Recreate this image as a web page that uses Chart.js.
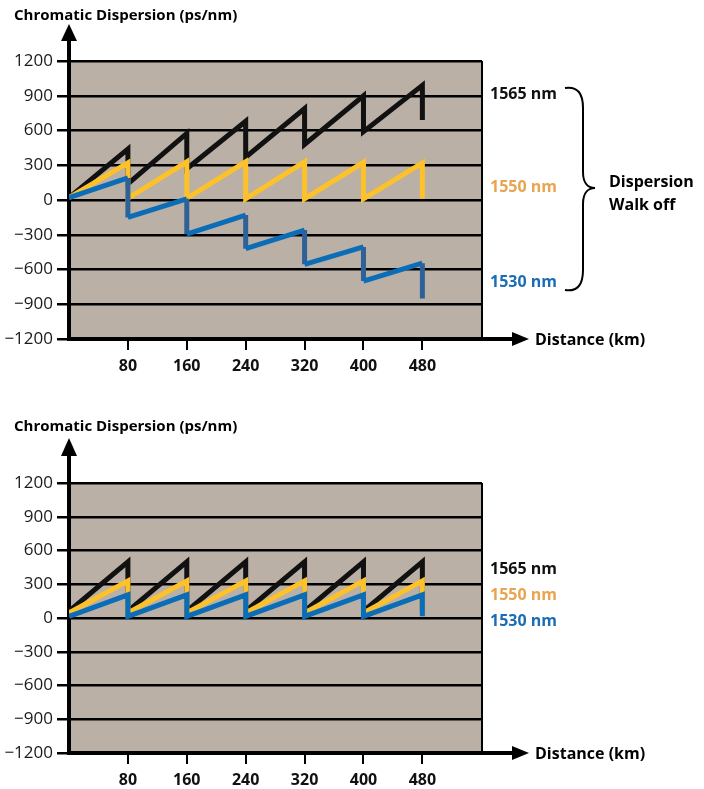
<!DOCTYPE html>
<html>
<head>
<meta charset="utf-8">
<script src="https://cdn.jsdelivr.net/npm/chart.js@4.4.1/dist/chart.umd.min.js"></script>
<style>
  html, body { margin: 0; padding: 0; background: #fff; }
  #wrap { position: relative; width: 704px; height: 789px; }
  canvas { position: absolute; left: 0; }
  #topChart { top: 0; }
  #bottomChart { top: 395px; }
</style>
</head>
<body>
<div id="wrap">
  <canvas id="topChart" width="704" height="395"></canvas>
  <canvas id="bottomChart" width="704" height="394"></canvas>
</div>
<script>
// distance (km): every span ends with a vertical drop at the compensator
const distance = [0, 80, 80, 160, 160, 240, 240, 320, 320, 400, 400, 480, 480];
const xTicks = [80, 160, 240, 320, 400, 480];
const yTicks = [-1200, -900, -600, -300, 0, 300, 600, 900, 1200];

// top chart - dispersion walk off (ps/nm)
const walk1565 = [20, 440, 140, 575, 270, 680, 370, 790, 480, 900, 590, 990, 690];
const walk1550 = [20, 320, 15, 330, 15, 330, 10, 330, 10, 325, 10, 320, 10];
const walk1530 = [20, 190, -150, 10, -295, -130, -420, -260, -555, -405, -700, -545, -850];

// bottom chart - slope matched compensation (ps/nm)
const comp1565 = [60, 500, 60, 500, 60, 500, 60, 500, 60, 500, 60, 500, 60];
const comp1550 = [45, 330, 45, 330, 45, 330, 45, 330, 45, 330, 45, 330, 45];
const comp1530 = [15, 205, 15, 205, 15, 205, 15, 205, 15, 205, 15, 205, 15];

const seriesNames = ['1565 nm', '1550 nm', '1530 nm'];
const lineColors = ['#111111', '#fdc12a', '#0b6db7'];
const labelColors = ['#111111', '#e8a44e', '#1a6db4'];
const FONT = '"Open Sans", "Noto Sans", sans-serif';

const toPoints = vals => vals.map((v, i) => ({ x: distance[i], y: v }));

const decor = {
  id: 'decor',
  beforeDraw(chart, args, o) {
    const { ctx, chartArea: a } = chart;
    ctx.save();
    ctx.fillStyle = '#bab0a5';
    ctx.fillRect(a.left, a.top, a.right - a.left, a.bottom - a.top);
    ctx.restore();
  },
  afterDraw(chart, args, o) {
    const { ctx, chartArea: a } = chart;
    ctx.save();
    ctx.strokeStyle = '#000';
    ctx.fillStyle = '#000';
    // right border
    ctx.lineWidth = 2;
    ctx.beginPath();
    ctx.moveTo(a.right, a.top);
    ctx.lineTo(a.right, a.bottom);
    ctx.stroke();
    // y arrow
    ctx.lineWidth = 4;
    ctx.beginPath();
    ctx.moveTo(a.left, a.top);
    ctx.lineTo(a.left, o.arrowBase);
    ctx.stroke();
    ctx.beginPath();
    ctx.moveTo(a.left, o.arrowTip);
    ctx.lineTo(a.left - 8, o.arrowBase + 1);
    ctx.lineTo(a.left + 8, o.arrowBase + 1);
    ctx.closePath();
    ctx.fill();
    // x arrow
    ctx.beginPath();
    ctx.moveTo(a.right, a.bottom);
    ctx.lineTo(513, a.bottom);
    ctx.stroke();
    ctx.beginPath();
    ctx.moveTo(529, a.bottom);
    ctx.lineTo(512, a.bottom - 7);
    ctx.lineTo(512, a.bottom + 7);
    ctx.closePath();
    ctx.fill();
    // axis titles
    ctx.font = '700 15px ' + FONT;
    ctx.textBaseline = 'alphabetic';
    ctx.textAlign = 'left';
    ctx.fillText('Chromatic Dispersion (ps/nm)', 14, o.titleBase);
    ctx.textBaseline = 'middle';
    ctx.font = '700 16px ' + FONT;
    ctx.fillText('Distance (km)', 535, a.bottom + 1);
    // series labels
    seriesNames.forEach((name, i) => {
      ctx.fillStyle = labelColors[i];
      ctx.fillText(name, 490, o.labelY[i]);
    });
    // brace
    if (o.brace) {
      ctx.fillStyle = '#000';
      ctx.lineWidth = 2;
      const b = o.brace, x = 583, tipX = 595;
      ctx.beginPath();
      ctx.moveTo(565, b.top);
      ctx.bezierCurveTo(578, b.top - 2, x, b.top + 6, x, b.top + 20);
      ctx.lineTo(x, b.mid - 16);
      ctx.bezierCurveTo(x, b.mid - 4, tipX - 6, b.mid, tipX, b.mid);
      ctx.bezierCurveTo(tipX - 6, b.mid, x, b.mid + 4, x, b.mid + 16);
      ctx.lineTo(x, b.bottom - 20);
      ctx.bezierCurveTo(x, b.bottom - 6, 578, b.bottom + 2, 565, b.bottom);
      ctx.stroke();
      ctx.fillText('Dispersion', 609, b.mid - 6);
      ctx.fillText('Walk off', 609, b.mid + 17);
    }
    ctx.restore();
  }
};

function makeChart(id, values, cfg) {
  const datasets = values.map((vals, i) => ({
    label: seriesNames[i],
    data: toPoints(vals),
    borderColor: lineColors[i],
    borderWidth: 5,
    pointRadius: 0,
    fill: false,
    tension: 0,
    borderJoinStyle: 'miter',
    order: i === 0 ? 3 : (i === 1 ? 2 : 1),
    segment: (cfg.darkDrop && i === 2) ? {
      borderColor: c => c.p0.parsed.x === c.p1.parsed.x ? '#2f6199' : undefined
    } : undefined
  }));

  return new Chart(document.getElementById(id), {
    type: 'line',
    data: { datasets },
    plugins: [decor],
    options: {
      responsive: false,
      animation: false,
      layout: { padding: { top: cfg.top, right: 222, left: 0, bottom: 0 } },
      plugins: {
        legend: { display: false },
        tooltip: { enabled: false },
        decor: cfg.decor
      },
      scales: {
        x: {
          type: 'linear',
          min: 0,
          max: 561,
          afterBuildTicks: s => { s.ticks = xTicks.map(v => ({ value: v })); },
          afterFit: s => { s.height = cfg.xHeight; },
          border: { color: '#000', width: 4 },
          grid: { drawOnChartArea: false, color: '#000', lineWidth: 2, tickLength: 11 },
          ticks: {
            color: '#111',
            padding: 7,
            maxRotation: 0,
            font: { family: FONT, size: 16, weight: '700' },
            callback: v => String(v)
          }
        },
        y: {
          min: -1200,
          max: 1200,
          afterBuildTicks: s => { s.ticks = yTicks.map(v => ({ value: v })); },
          afterFit: s => { s.width = 69; },
          border: { color: '#000', width: 4 },
          grid: { color: '#000', lineWidth: 2.5, tickLength: 12 },
          ticks: {
            color: '#1a1a1a',
            padding: 4,
            font: { family: FONT, size: 17 },
            callback: v => v < 0 ? '\u2212' + Math.abs(v) : String(v)
          }
        }
      }
    }
  });
}

makeChart('topChart', [walk1565, walk1550, walk1530], {
  top: 61,
  xHeight: 56,
  darkDrop: true,
  decor: {
    arrowTip: 24, arrowBase: 40, titleBase: 20,
    labelY: [94, 187, 282],
    brace: { top: 88, mid: 188, bottom: 290 }
  }
});

makeChart('bottomChart', [comp1565, comp1550, comp1530], {
  top: 88,
  xHeight: 36,
  darkDrop: false,
  decor: {
    arrowTip: 43, arrowBase: 60, titleBase: 36,
    labelY: [174, 200, 226]
  }
});
</script>
</body>
</html>
